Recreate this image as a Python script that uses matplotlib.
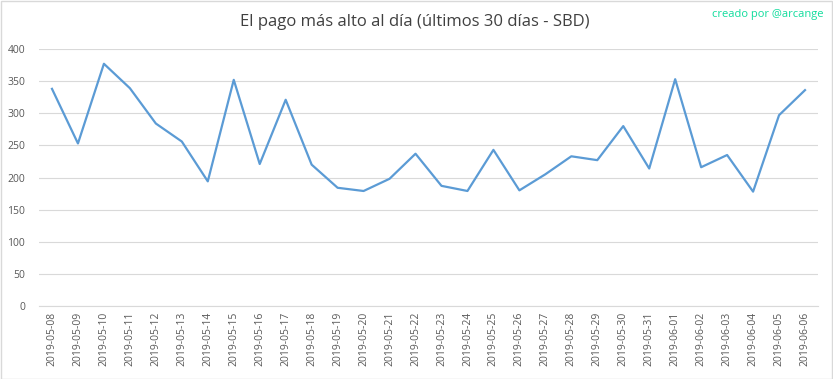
import matplotlib.pyplot as plt
from matplotlib.patches import Rectangle

# Data
dates = [
    '2019-05-08', '2019-05-09', '2019-05-10', '2019-05-11', '2019-05-12',
    '2019-05-13', '2019-05-14', '2019-05-15', '2019-05-16', '2019-05-17',
    '2019-05-18', '2019-05-19', '2019-05-20', '2019-05-21', '2019-05-22',
    '2019-05-23', '2019-05-24', '2019-05-25', '2019-05-26', '2019-05-27',
    '2019-05-28', '2019-05-29', '2019-05-30', '2019-05-31', '2019-06-01',
    '2019-06-02', '2019-06-03', '2019-06-04', '2019-06-05', '2019-06-06',
]
max_payout = [338, 253, 377, 339, 284, 256, 194, 352, 221, 321,
              220, 184, 179, 198, 237, 187, 179, 243, 180, 205,
              233, 227, 280, 214, 353, 216, 235, 178, 297, 336]
y_ticks = [0, 50, 100, 150, 200, 250, 300, 350, 400]

plt.rcParams['font.family'] = ['Open Sans', 'DejaVu Sans']

W, H = 833, 379
fig = plt.figure(figsize=(W / 100, H / 100), dpi=100)
ax = fig.add_axes([39 / W, 1 - 306 / H, (818 - 39) / W, (306 - 49) / H])

x = list(range(len(dates)))
ax.plot(x, max_payout, color='#5B9BD5', linewidth=1.6, zorder=3)

ax.set_xlim(-0.5, len(dates) - 0.5)
ax.set_ylim(0, 400)
ax.set_yticks(y_ticks)
ax.set_xticks(x)
ax.set_xticklabels(dates, rotation=90)
ax.tick_params(axis='both', length=0, colors='#595959', labelsize=7.5)
ax.tick_params(axis='y', pad=10)
ax.tick_params(axis='x', pad=4)
ax.grid(axis='y', color='#D9D9D9', linewidth=0.8)
ax.set_axisbelow(True)
for side in ['top', 'right', 'left']:
    ax.spines[side].set_visible(False)
ax.spines['bottom'].set_color('#D9D9D9')
ax.spines['bottom'].set_linewidth(0.8)

fig.text(415 / W, 1 - 22 / H, 'El pago más alto al día (últimos 30 días - SBD)',
         ha='center', va='center', fontsize=12, color='#404040')
fig.text(823 / W, 1 - 15 / H, 'creado por @arcange', ha='right', va='center',
         fontsize=8, color='#10DC9C')

# chart border
fig.patches.append(Rectangle((0.5 / W, 0.5 / H), (W - 1.5) / W, (H - 1.5) / H,
                             transform=fig.transFigure, fill=False,
                             edgecolor='#D9D9D9', linewidth=1))

fig.savefig('out.png', dpi=100)
